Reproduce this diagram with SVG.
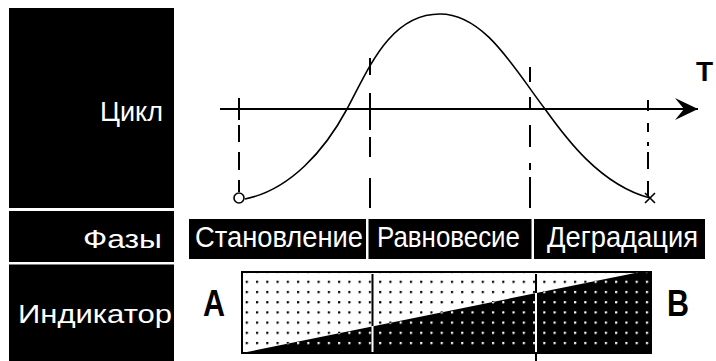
<svg xmlns="http://www.w3.org/2000/svg" width="716" height="361" viewBox="0 0 716 361">
<style>
.lbl{font-family:"Liberation Sans",Arial,sans-serif;fill:#fff}
.big{font-family:"Liberation Sans",Arial,sans-serif;font-weight:bold;fill:#000}
.blk{fill:#000}
.ln{stroke:#000;stroke-width:2;fill:none}
.wl{stroke:#fff;stroke-width:2;fill:none}
</style>
<defs>
<pattern id="dotB" patternUnits="userSpaceOnUse" x="245.7" y="280.7" width="10.26" height="10.2"><circle cx="1.1" cy="1.1" r="1.25" fill="#000"/></pattern>
<pattern id="dotW" patternUnits="userSpaceOnUse" x="245.7" y="280.7" width="10.26" height="10.2"><circle cx="1.1" cy="1.1" r="1.25" fill="#fff"/></pattern>
<marker id="arr" markerUnits="userSpaceOnUse" markerWidth="26" markerHeight="26" refX="23" refY="12" orient="auto"><path d="M0,1 L23,12 L0,23 L9,12 Z" fill="#000"/></marker>
</defs>
<rect width="716" height="361" fill="#fff"/>

<g id="row-cycle">
<rect class="blk" x="9" y="8" width="165" height="200"/>
<text class="lbl" x="100" y="121" font-size="27" textLength="63" lengthAdjust="spacingAndGlyphs">Цикл</text>
</g>
<g id="row-phases">
<rect class="blk" x="9" y="211" width="165" height="51"/>
<text class="lbl" x="83" y="248" font-size="25" textLength="79" lengthAdjust="spacingAndGlyphs">Фазы</text>
</g>
<g id="row-indicator">
<rect class="blk" x="9" y="264.5" width="165" height="97"/>
<text class="lbl" x="18" y="323" font-size="25" textLength="154" lengthAdjust="spacingAndGlyphs">Индикатор</text>
</g>

<g id="axis">
<line class="ln" x1="220" y1="109" x2="698" y2="109" marker-end="url(#arr)"/>
<text class="big" x="696" y="81" font-size="28">T</text>
</g>

<g id="curve">
<path d="M245,199 C290,190 325,150 347,109 C369,68 390,14 440,14 C485,14 515,70 545,109 C565,137 600,185 650,198" fill="none" stroke="#000" stroke-width="1.6"/>
<circle cx="239" cy="198" r="5" fill="#fff" stroke="#000" stroke-width="1.6"/>
<path d="M645,193 L655,203 M655,193 L645,203" stroke="#000" stroke-width="1.6"/>
</g>

<g id="connectors">
<line class="ln" x1="239" y1="98" x2="239" y2="192" stroke-dasharray="22 5 17 10 18 10 12"/>
<line class="ln" x1="370" y1="58" x2="370" y2="208" stroke-dasharray="17 18 37 7 20 21 30"/>
<line class="ln" x1="530" y1="67" x2="530" y2="208" stroke-dasharray="15 15 13 15 22 16 7 7 31"/>
<line class="ln" x1="648" y1="100" x2="648" y2="197" stroke-dasharray="11 12 9 10 4 6 17 12 15"/>
</g>

<g id="phase-formation">
<rect class="blk" x="189" y="219" width="177" height="40"/>
<text class="lbl" x="195" y="247" font-size="30" textLength="168" lengthAdjust="spacingAndGlyphs">Становление</text>
</g>
<g id="phase-equilibrium">
<rect class="blk" x="368.5" y="219" width="163" height="40"/>
<text class="lbl" x="377" y="247" font-size="30" textLength="143" lengthAdjust="spacingAndGlyphs">Равновесие</text>
</g>
<g id="phase-degradation">
<rect class="blk" x="534" y="219" width="171" height="40"/>
<text class="lbl" x="547" y="247" font-size="30" textLength="151" lengthAdjust="spacingAndGlyphs">Деградация</text>
</g>

<g id="indicator">
<rect x="242" y="272" width="409" height="81" fill="#fff" stroke="#000" stroke-width="2"/>
<rect x="243" y="273" width="407" height="79" fill="url(#dotB)"/>
<polygon points="247,352 640,272 651,272 651,353 243,353" fill="#000"/>
<polygon points="247,352 640,272 650,273 650,352" fill="url(#dotW)"/>
<line class="ln" x1="372.5" y1="274" x2="372.5" y2="326"/>
<line class="wl" x1="372.5" y1="326" x2="372.5" y2="352"/>
<line class="ln" x1="536" y1="274" x2="536" y2="293"/>
<line class="wl" x1="536" y1="293" x2="536" y2="352"/>
<line class="ln" x1="536" y1="354" x2="536" y2="361"/>
<text class="big" x="203" y="316" font-size="37" textLength="22" lengthAdjust="spacingAndGlyphs">A</text>
<text class="big" x="667" y="316" font-size="37" textLength="22" lengthAdjust="spacingAndGlyphs">B</text>
</g>
</svg>
